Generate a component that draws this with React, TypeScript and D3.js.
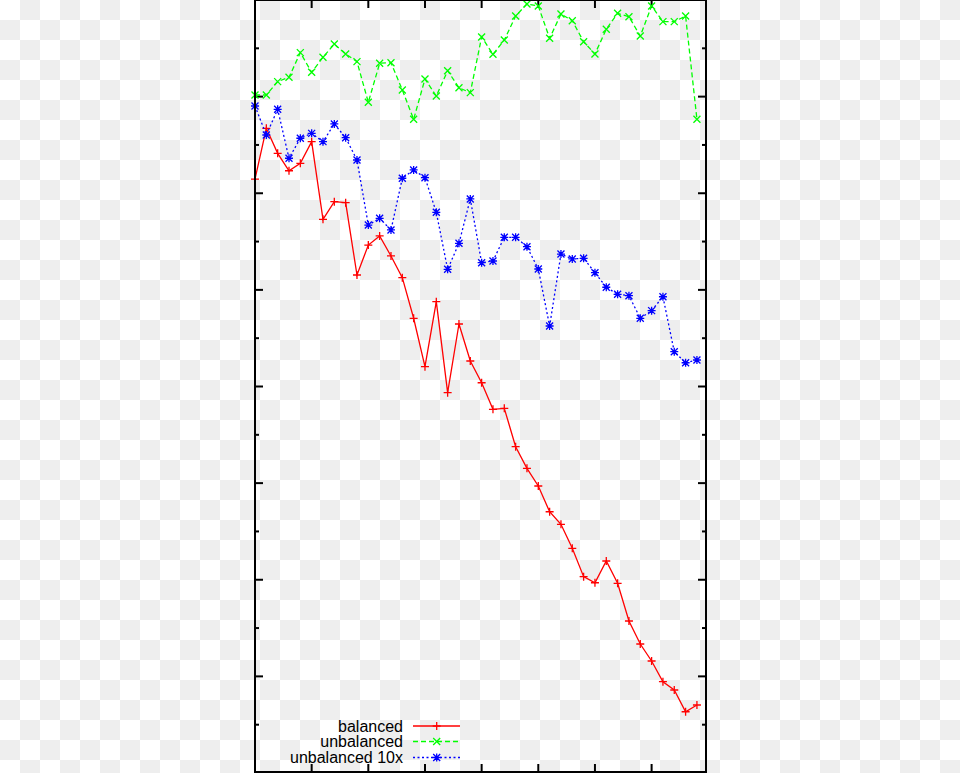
import React from "react";
import * as d3 from "d3";

const seriesNames = ["balanced", "unbalanced", "unbalanced 10x"];

const balanced = [61.47, 66.72, 64.13, 62.33, 63.1, 65.34, 57.3, 59.13, 59.02, 51.54, 54.64, 55.58, 53.51, 51.26, 47.06, 42.05, 48.78, 39.36, 46.47, 42.64, 40.39, 37.64, 37.74, 33.77, 31.53, 29.7, 27.04, 25.74, 23.25, 20.32, 19.69, 21.94, 19.63, 15.73, 13.35, 11.59, 9.45, 8.59, 6.34, 7.04];

const unbalanced = [70.17, 70.17, 71.55, 72.0, 74.55, 72.52, 74.07, 75.45, 74.41, 73.62, 69.41, 73.45, 73.51, 70.69, 67.65, 71.82, 70.06, 72.68, 70.92, 70.41, 76.17, 74.38, 75.86, 78.34, 79.59, 79.38, 76.04, 78.55, 77.86, 75.68, 74.41, 76.97, 78.62, 78.27, 76.27, 79.38, 77.76, 77.76, 78.34, 67.65];

const unbalanced10x = [69.03, 66.03, 68.69, 63.62, 65.69, 66.2, 65.34, 67.17, 65.75, 63.44, 56.71, 57.41, 56.2, 61.55, 62.41, 61.61, 58.03, 52.13, 54.82, 59.41, 52.81, 52.99, 55.44, 55.44, 54.47, 52.16, 46.26, 53.71, 53.2, 53.27, 51.78, 50.27, 49.54, 49.4, 47.06, 47.85, 49.29, 43.6, 42.46, 42.74];

const xTicks = [5, 10, 15, 20, 25, 30, 35];
const yMajorTicks = [10, 20, 30, 40, 50, 60, 70];
const yMinorTicks = [5, 15, 25, 35, 45, 55, 65, 75];

const W = 960;
const H = 773;
const left = 255;
const right = 706;
const top = 0;
const bottom = 772;

const x = d3.scaleLinear().domain([0, 39.8]).range([left, right]);
const y = d3.scaleLinear().domain([0, 80]).range([773, 0]);

const colors = ["#ff0000", "#00ff00", "#0000ff"];
const dashes = [undefined, "5,3", "2,2.5"];
const allSeries = [balanced, unbalanced, unbalanced10x];

function Marker({ kind, cx, cy, color }: { kind: number; cx: number; cy: number; color: string }) {
  const p = 4;
  const c = 3.5;
  const plus = `M${cx - p},${cy}L${cx + p},${cy}M${cx},${cy - p}L${cx},${cy + p}`;
  const cross = `M${cx - c},${cy - c}L${cx + c},${cy + c}M${cx - c},${cy + c}L${cx + c},${cy - c}`;
  const d = kind === 0 ? plus : kind === 1 ? cross : plus + cross;
  return <path d={d} stroke={color} strokeWidth={1.3} fill="none" />;
}

export default function App() {
  const line = d3
    .line<number>()
    .x((_, i) => x(i))
    .y((v) => y(v));

  const legendTextX = 403;
  const legendLineX0 = 413;
  const legendLineX1 = 460;
  const legendMarkX = 436.7;
  const legendYs = [726, 741.5, 757.5];

  return (
    <svg
      width={W}
      height={H}
      style={{ position: "absolute", left: 0, top: 0, display: "block" }}
      fontFamily="'Liberation Sans', Arial, sans-serif"
    >
      <defs>
        <pattern id="checker" patternUnits="userSpaceOnUse" width={40} height={40}>
          <rect x={0} y={0} width={40} height={40} fill="#ffffff" />
          <rect x={20} y={0} width={20} height={20} fill="#eeeeee" />
          <rect x={0} y={20} width={20} height={20} fill="#eeeeee" />
        </pattern>
      </defs>
      <rect x={0} y={0} width={W} height={H} fill="url(#checker)" />

      {/* ticks */}
      {xTicks.map((t) => (
        <g key={"xt" + t}>
          <line x1={x(t)} x2={x(t)} y1={top} y2={top + 8} stroke="#000" strokeWidth={2} />
          <line x1={x(t)} x2={x(t)} y1={bottom} y2={bottom - 8} stroke="#000" strokeWidth={2} />
        </g>
      ))}
      {yMajorTicks.map((t) => (
        <g key={"ym" + t}>
          <line x1={left} x2={left + 8} y1={y(t)} y2={y(t)} stroke="#000" strokeWidth={2} />
          <line x1={right} x2={right - 8} y1={y(t)} y2={y(t)} stroke="#000" strokeWidth={2} />
        </g>
      ))}
      {yMinorTicks.map((t) => (
        <g key={"yn" + t}>
          <line x1={left} x2={left + 4} y1={y(t)} y2={y(t)} stroke="#000" strokeWidth={2} />
          <line x1={right} x2={right - 4} y1={y(t)} y2={y(t)} stroke="#000" strokeWidth={2} />
        </g>
      ))}

      {/* series */}
      {allSeries.map((s, k) => (
        <g key={"s" + k}>
          <path
            d={line(s) || ""}
            fill="none"
            stroke={colors[k]}
            strokeWidth={1.3}
            strokeDasharray={dashes[k]}
          />
          {s.map((v, i) => (
            <Marker key={i} kind={k} cx={x(i)} cy={y(v)} color={colors[k]} />
          ))}
        </g>
      ))}

      {/* legend */}
      {seriesNames.map((name, k) => (
        <g key={"lg" + k}>
          <text
            x={legendTextX}
            y={legendYs[k]}
            dy="0.35em"
            textAnchor="end"
            fontSize={16}
            fill="#000"
          >
            {name}
          </text>
          <line
            x1={legendLineX0}
            x2={legendLineX1}
            y1={legendYs[k]}
            y2={legendYs[k]}
            stroke={colors[k]}
            strokeWidth={1.3}
            strokeDasharray={dashes[k]}
          />
          <Marker kind={k} cx={legendMarkX} cy={legendYs[k]} color={colors[k]} />
        </g>
      ))}

      {/* frame */}
      <rect
        x={left}
        y={top}
        width={right - left}
        height={bottom - top}
        fill="none"
        stroke="#000"
        strokeWidth={2}
      />
    </svg>
  );
}
